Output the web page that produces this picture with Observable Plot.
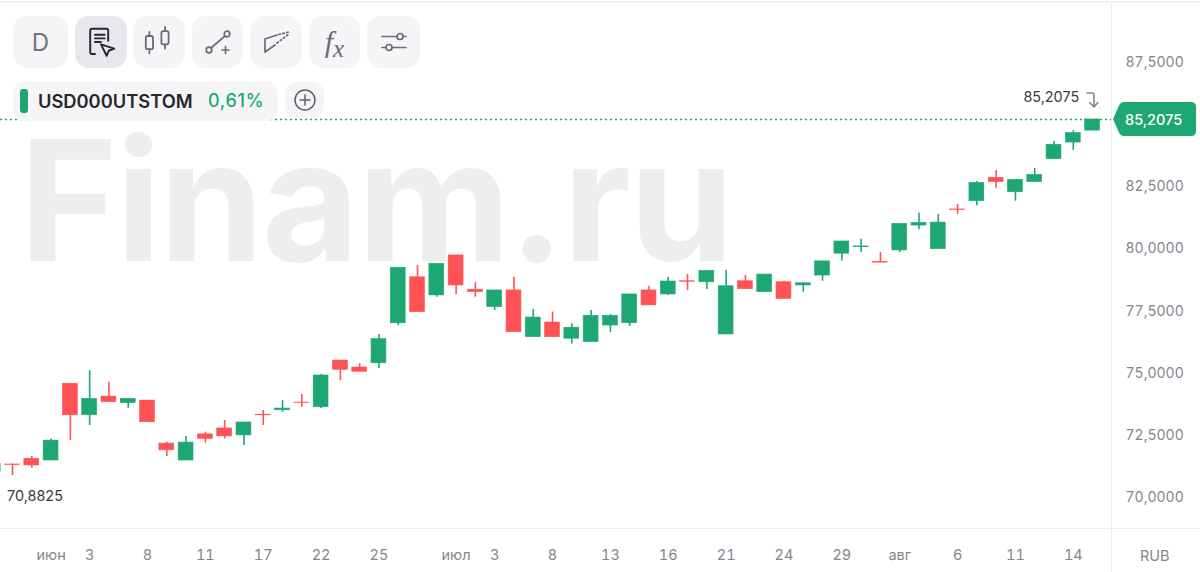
<!DOCTYPE html>
<html lang="ru">
<head>
<meta charset="utf-8">
<script src="https://cdn.jsdelivr.net/npm/d3@7"></script>
<script src="https://cdn.jsdelivr.net/npm/@observablehq/plot@0.6"></script>
<style>
html,body{margin:0;padding:0;background:#fff;overflow:hidden}
#wrap{position:relative;width:1200px;height:572px;font-family:Inter,sans-serif;overflow:hidden}
#wrap svg{display:block}
.ov{position:absolute}
.btn{position:absolute;top:16px;height:52px;border-radius:14px;background:#f5f5f8;display:flex;align-items:center;justify-content:center;color:#6b6b75}
.btn.active{background:#e8e8ec;color:#26262b}
.line{position:absolute;background:#ebebf0}
</style>
</head>
<body>
<div id="wrap"></div>
<script>
const firstIndex = -1;
const open  = [71.02,71.33,71.56,71.49,74.58,73.31,74.06,73.80,73.90,72.17,71.49,72.54,72.78,72.50,73.33,73.51,73.82,73.63,75.51,75.23,75.40,77.01,78.86,78.13,79.74,78.36,77.66,78.33,76.45,77.04,76.39,76.25,76.92,77.01,78.33,78.17,78.70,78.66,76.56,78.70,78.26,78.66,78.53,78.93,79.81,80.07,79.47,79.94,80.94,79.99,81.59,81.92,82.86,82.28,82.69,83.61,84.28,84.76];
const close = [71.36,71.31,71.29,72.29,73.31,73.97,73.84,73.97,73.03,71.90,72.21,72.36,72.46,73.02,73.31,73.58,73.80,74.91,75.14,75.06,76.37,79.24,77.46,79.40,78.53,78.26,78.33,76.65,77.24,76.45,76.83,77.31,77.31,78.17,77.73,78.69,78.68,79.12,78.50,78.38,78.97,77.99,78.62,79.50,80.30,80.10,79.45,81.01,81.05,81.06,81.57,82.66,82.69,82.78,82.98,84.19,84.66,85.2075];
const high  = [71.36,71.35,71.65,72.36,74.58,75.11,74.64,73.97,73.90,72.23,72.46,72.63,73.10,73.02,73.50,73.90,74.15,74.96,75.51,75.38,76.56,79.24,79.33,79.40,79.74,78.66,78.33,78.86,77.56,77.46,76.99,77.52,77.36,78.17,78.50,78.86,78.97,79.12,79.13,78.93,78.97,78.70,78.62,79.50,80.30,80.39,79.86,81.01,81.45,81.39,81.79,82.71,83.16,82.78,83.24,84.32,84.76,85.2075];
const low   = [71.02,70.8825,71.18,71.49,72.29,72.90,73.84,73.59,73.03,71.65,71.49,72.19,72.36,72.09,72.90,73.43,73.63,73.58,74.71,75.06,75.19,76.91,77.46,78.06,78.17,78.06,77.52,76.65,76.45,76.45,76.18,76.25,76.63,76.88,77.73,78.13,78.33,78.37,76.56,78.38,78.26,77.99,78.26,78.70,79.51,79.87,79.45,79.85,80.77,79.99,81.39,81.74,82.44,81.92,82.69,83.61,83.96,84.76];

const xTickIndex  = [2,4,7,10,13,16,19,23,25,28,31,34,37,40,43,46,49,52,55];
const xTickLabels = ["июн","3","8","11","17","22","25","июл","3","8","13","16","21","24","29","авг","6","11","14"];
const yTicks = [70,72.5,75,77.5,80,82.5,87.5];
const lastPrice = 85.2075;
const lowPrice = 70.8825;
const lowIndex = 0;
const watermark = "Finam.ru";

const GREEN = "#1da873", RED = "#ff5254", GREY = "#85858f";
const comma = v => d3.format(".4f")(v).replace(".", ",");
const candles = open.map((o,k)=>({i:k+firstIndex,o,c:close[k],h:high[k],l:low[k],col:close[k]>=o?GREEN:RED}));
const halfBody = 0.385;

const chart = Plot.plot({
  width:1200, height:572,
  marginLeft:0, marginRight:89, marginTop:2, marginBottom:44,
  style:{fontFamily:"Inter, sans-serif",background:"#fff",overflow:"hidden"},
  x:{type:"linear",domain:[-0.622,56.98],range:[0,1111],axis:null},
  y:{type:"linear",domain:[68.755,89.913],range:[528,2],axis:null},
  marks:[
    Plot.text([watermark],{
      text:d=>d, x:18.82, y:81.67,
      fontSize:168, fontWeight:700, fill:"#eeeeee", textAnchor:"middle", lineAnchor:"middle"
    }),
    Plot.ruleY([lastPrice],{stroke:GREEN,strokeWidth:1.6,strokeDasharray:"2 3"}),
    Plot.ruleX(candles,{x:"i",y1:"l",y2:"h",stroke:"col",strokeWidth:1.6}),
    Plot.rect(candles,{
      x1:d=>d.i-halfBody,x2:d=>d.i+halfBody,
      y1:"o",y2:"c",fill:"col",stroke:"col",strokeWidth:0.6
    }),
    Plot.axisX({ticks:xTickIndex,tickFormat:d=>xTickLabels[xTickIndex.indexOf(d)],tickSize:0,tickPadding:21,
      fontSize:14.5,fill:GREY,color:GREY,anchor:"bottom",label:null}),
    Plot.axisY({ticks:yTicks,tickFormat:comma,anchor:"right",tickSize:0,tickPadding:14,
      fontSize:14,fill:GREY,color:GREY,textAnchor:"start",label:null}),
    Plot.text([{i:lowIndex,v:lowPrice}],{x:"i",y:"v",text:d=>comma(d.v),dx:22.5,dy:21,fontSize:14.4,fill:"#3a3a42"}),
    Plot.text([{i:55,v:lastPrice}],{x:"i",y:"v",text:d=>comma(d.v),dx:-22,dy:-22,fontSize:14.4,fill:"#3a3a42"})
  ]
});
d3.select(chart).selectAll("text").filter(function(){return this.textContent===watermark;}).style("letter-spacing","-2px");

const wrap = document.getElementById("wrap");
wrap.appendChild(chart);

const icons = [
 `<span style="font-size:24px;color:#73737d">D</span>`,
 `<svg width="36" height="36" viewBox="0 0 30 30" fill="none" stroke="#26262b" stroke-width="1.600" stroke-linecap="round" stroke-linejoin="round"><path d="M10 25H7.500a1.500 1.500 0 0 1-1.500-1.500V5.500A1.500 1.500 0 0 1 7.500 4h12A1.500 1.500 0 0 1 21 5.500V14"/><path d="M10 9h8M10 12h8M10 15h5"/><path d="M15 17l11 3.500-4.500 1.800-1.800 4.200z"/></svg>`,
 `<svg width="36" height="36" viewBox="0 0 30 30" fill="none" stroke="#6b6b75" stroke-width="1.500" stroke-linecap="round"><rect x="4" y="10" width="6" height="11" rx="1.500"/><path d="M7 6.500V10M7 21v3.500"/><rect x="17" y="6" width="6" height="11" rx="1.500"/><path d="M20 2.500V6M20 17v3.500"/></svg>`,
 `<svg width="30" height="30" viewBox="0 0 30 30" fill="none" stroke="#6b6b75" stroke-width="1.700" stroke-linecap="round"><circle cx="6" cy="23" r="2.800"/><circle cx="24" cy="7" r="2.800"/><path d="M8 21L22 9M19 23h7M22.500 19.500v7"/></svg>`,
 `<svg width="30" height="30" viewBox="0 0 30 30" fill="none" stroke="#6b6b75" stroke-width="1.700" stroke-linecap="round"><path d="M4 25V12l12-4M4 25l10-7"/><path d="M18 7.500l10-2.500M16 16l12-9" stroke-dasharray="1.500 2.500"/></svg>`,
 `<span style="font:italic 30px 'Liberation Serif',serif;color:#6b6b75;letter-spacing:0">f<span style="font-size:25px;position:relative;top:5px">x</span></span>`,
 `<svg width="30" height="30" viewBox="0 0 30 30" fill="none" stroke="#6b6b75" stroke-width="1.700" stroke-linecap="round"><path d="M3 9.500h15M24 9.500h3M3 20.500h4M13 20.500h14"/><circle cx="21" cy="9.500" r="3"/><circle cx="10" cy="20.500" r="3"/></svg>`
];
const btnX = [[13,55],[75,52],[133,52],[192,51],[250,52],[309,51],[367,53]];
btnX.forEach(([l,w],k)=>{
  const b=document.createElement("div");
  b.className="btn"+(k===1?" active":"");
  b.style.left=l+"px";b.style.width=w+"px";
  b.innerHTML=icons[k];
  wrap.appendChild(b);
});

function ov(html){const t=document.createElement("div");t.innerHTML=html;while(t.firstChild)wrap.appendChild(t.firstChild);}
ov(`
<div class="line" style="left:0;top:1px;width:1200px;height:2px;background:#f0f0f6"></div>
<div class="line" style="left:0;top:528px;width:1200px;height:1px"></div>
<div class="line" style="left:1111px;top:2px;width:1px;height:570px"></div>
<div class="ov" style="left:13px;top:81px;width:265px;height:40px;background:#f5f5f8;border-radius:12px"></div>
<div class="ov" style="left:20px;top:89px;width:8px;height:24px;background:${GREEN};border-radius:3px"></div>
<div class="ov" style="left:38px;top:91px;font-weight:600;color:#26262b;line-height:20px;white-space:nowrap;font-size:18.300px">USD000UTSTOM</div>
<div class="ov" style="left:208px;top:91px;font-size:18px;font-weight:500;color:${GREEN};line-height:20px;white-space:nowrap;letter-spacing:.7px">0,61%</div>
<div class="ov" style="left:285px;top:82px;width:39px;height:36px;background:#f5f5f8;border-radius:12px;display:flex;align-items:center;justify-content:center">
 <svg width="24" height="24" viewBox="0 0 24 24" fill="none" stroke="#5f5f68" stroke-width="1.500" stroke-linecap="round"><circle cx="12" cy="12" r="10"/><path d="M12 7v10M7 12h10"/></svg></div>
<svg class="ov" style="left:1085px;top:90px" width="16" height="20" viewBox="0 0 16 20" fill="none" stroke="#85858f" stroke-width="1.600" stroke-linecap="round" stroke-linejoin="round"><path d="M2 3h5c1.500 0 2 1 2 2v11M4.500 12.500L9 17l3.800-4.500"/></svg>
<svg class="ov" style="left:1112px;top:101px" width="88" height="36" viewBox="0 0 88 36"><path d="M1 18L7 4.500Q8.500 1 12 1H79Q84 1 84 6V30Q84 35 79 35H12Q8.500 35 7 31.500Z" fill="${GREEN}"/></svg>
<div class="ov" style="left:1125px;top:110px;font-size:14.500px;font-weight:500;color:#fff;line-height:20px;white-space:nowrap">85,2075</div>
<div class="ov" style="left:1140px;top:547px;font-size:14.500px;color:#85858f;line-height:18px">RUB</div>
`);
</script>
</body>
</html>
